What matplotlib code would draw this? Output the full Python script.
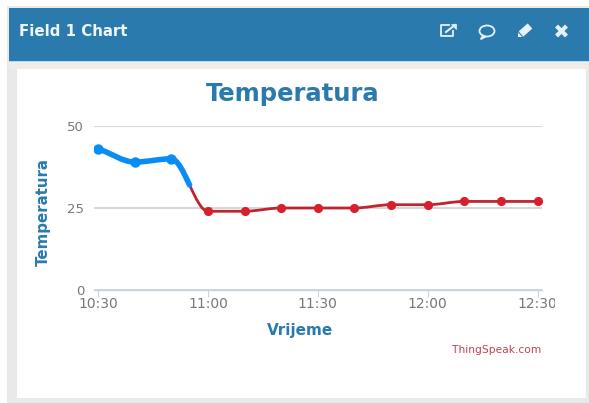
import numpy as np
import matplotlib
matplotlib.use("Agg")
import matplotlib.pyplot as plt
from matplotlib.patches import Rectangle, PathPatch, Ellipse, Polygon
from matplotlib.path import Path
from matplotlib.transforms import Bbox

W, H = 589, 403
minutes = [0, 10, 20, 30, 40, 50, 60, 70, 80, 90, 100, 110, 120]
temps = [43, 39, 40, 24, 24, 25, 25, 25, 26, 26, 27, 27, 27]
highlight_count = 3
xticks = [0, 30, 60, 90, 120]
xticklabels = ["10:30", "11:00", "11:30", "12:00", "12:30"]
yticks = [0, 25, 50]
title = "Temperatura"
xlabel = "Vrijeme"
ylabel = "Temperatura"
header = "Field 1 Chart"
credit = "ThingSpeak.com"

BLUE = "#2a7aae"
RED = "#bd2530"
DOT = "#d8202c"
HI = "#0a8cf5"

fig = plt.figure(figsize=(W/100, H/100), dpi=100, facecolor="white")

# page furniture in pixel coordinates
bg = fig.add_axes([0, 0, 1, 1])
bg.set_xlim(0, W); bg.set_ylim(H, 0); bg.axis("off")
def rect(x0, y0, x1, y1, c, z=1):
    bg.add_patch(Rectangle((x0, y0), x1-x0, y1-y0, fc=c, ec="none", zorder=z))
rect(7, 6, W, H, "#e9e9e9", 1)
rect(9, 8, W, 61, BLUE, 2)
rect(9, 61, W, 62, "#b5dcef", 2)
rect(9, 62, W, 69, "#efecea", 2)
rect(17, 69, 586, 398, "white", 3)
bg.text(19, 31, header, color="#eef6fa", fontsize=10.8, fontweight="bold",
        family="DejaVu Sans", va="center", ha="left", zorder=5)

ic = "#e6f2f8"
# external-link icon
bg.add_line(plt.Line2D([449, 441, 441, 453, 453], [25, 25, 36, 36, 31], color=ic, lw=1.3, zorder=5))
bg.add_line(plt.Line2D([446, 455], [32, 25], color=ic, lw=1.5, zorder=5))
bg.add_patch(Polygon([[451, 24], [456, 24], [456, 29]], fc=ic, ec=ic, lw=0.5, zorder=5))
# comment icon
bg.add_patch(Ellipse((487, 31), 15, 11, fc="none", ec=ic, lw=1.3, zorder=5))
bg.add_line(plt.Line2D([483, 481, 485], [35.5, 39, 37], color=ic, lw=1.3, zorder=5))
# pencil icon
bg.add_line(plt.Line2D([521, 530], [34, 26], color=ic, lw=5, zorder=5, solid_capstyle="butt"))
bg.add_patch(Polygon([[518, 32.5], [522.5, 37], [518, 37]], fc=ic, ec="none", zorder=5))
# close icon
bg.add_line(plt.Line2D([558, 565], [27.5, 34.5], color=ic, lw=3, zorder=5))
bg.add_line(plt.Line2D([558, 565], [34.5, 27.5], color=ic, lw=3, zorder=5))

# chart axes
px_per_min = (537.5 - 98) / 120
left, right, top, bottom = 94, 542, 126, 290
ax = fig.add_axes([left/W, 1-bottom/H, (right-left)/W, (bottom-top)/H])
ax.patch.set_alpha(0)
ax.set_xlim((left-98)/px_per_min, (right-98)/px_per_min)
ax.set_ylim(0, 50)
for s in ["top", "left", "right"]:
    ax.spines[s].set_visible(False)
ax.spines["bottom"].set_color("#c6d3e0")
ax.spines["bottom"].set_linewidth(1.0)
ax.grid(axis="y", color="#d6d6d6", lw=1.4, zorder=1)
ax.set_axisbelow(True)
ax.set_yticks(yticks)
ax.set_xticks(xticks)
ax.set_xticklabels(xticklabels)
ax.tick_params(axis="y", length=0, pad=7, labelsize=9.5, labelcolor="#777777")
ax.tick_params(axis="x", length=5, width=0.8, color="#c6d3e0", pad=0, direction="out",
               labelsize=10, labelcolor="#777777")
# last tick label is cut off by the chart container
clip = Bbox([[0, 0], [555, H]])
for t in ax.get_xticklabels():
    t.set_clip_box(clip)
    t.set_clip_on(True)

# smooth line through the values, as cubic Bezier segments
x = np.array(minutes, float)
y = np.array(temps, float)
m = np.gradient(y, x) * 0.75
for i in range(1, len(x)-1):
    if (y[i]-y[i-1]) * (y[i+1]-y[i]) <= 0:
        m[i] = 0
segs = []
for i in range(len(x)-1):
    h = x[i+1]-x[i]
    segs.append(np.array([[x[i], y[i]], [x[i]+h/3, y[i]+m[i]*h/3],
                          [x[i+1]-h/3, y[i+1]-m[i+1]*h/3], [x[i+1], y[i+1]]]))

def to_path(segments):
    verts = [segments[0][0]]
    codes = [Path.MOVETO]
    for s in segments:
        verts.extend(s[1:]); codes.extend([Path.CURVE4]*3)
    return Path(np.array(verts), codes)

def first_half(s):
    a = (s[0]+s[1])/2; b = (s[1]+s[2])/2; c = (s[2]+s[3])/2
    d = (a+b)/2; e = (b+c)/2
    return np.array([s[0], a, d, (d+e)/2])

ax.add_patch(PathPatch(to_path(segs), fc="none", ec=RED, lw=2.0, zorder=3))
ax.plot(minutes[highlight_count:], temps[highlight_count:], "o", color=DOT, ms=6.6, mew=0, zorder=4)
hi_segs = segs[:highlight_count-1] + [first_half(segs[highlight_count-1])]
ax.add_patch(PathPatch(to_path(hi_segs), fc="none", ec=HI, lw=4.0, zorder=5, capstyle="round"))
ax.plot(minutes[:highlight_count], temps[:highlight_count], "o", color=HI, ms=7.5, mew=0, zorder=6)

# chart texts
tx = fig.add_axes([0, 0, 1, 1])
tx.set_xlim(0, W); tx.set_ylim(H, 0); tx.axis("off"); tx.patch.set_alpha(0)
tx.text(293, 94, title, color=BLUE, fontsize=17.5, fontweight="bold", ha="center", va="center")
tx.text(300, 331, xlabel, color=BLUE, fontsize=11, fontweight="bold", ha="center", va="center")
tx.text(43, 212, ylabel, color=BLUE, fontsize=10.8, fontweight="bold", ha="center", va="center", rotation=90)
tx.text(541.5, 350, credit, color="#c0414f", fontsize=7.7, ha="right", va="center")

fig.savefig("out.png", dpi=100)
